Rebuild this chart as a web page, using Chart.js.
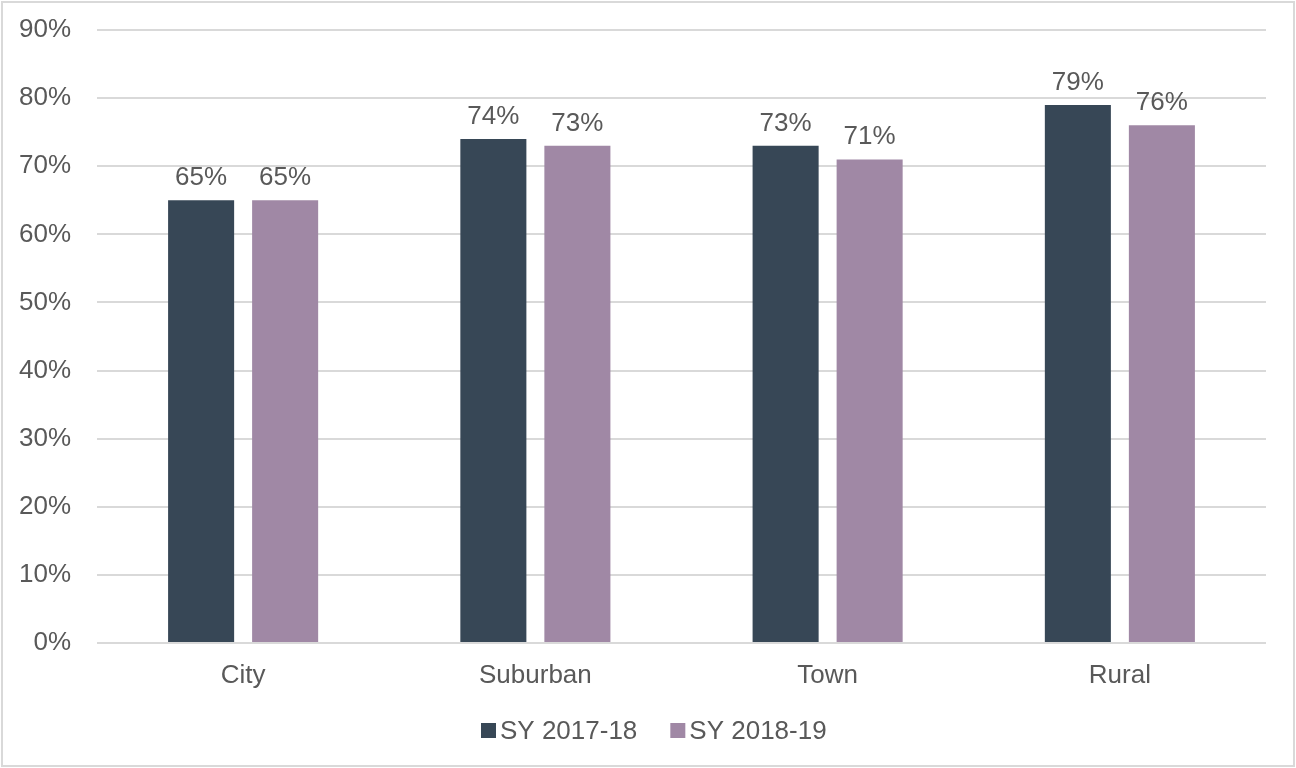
<!DOCTYPE html>
<html>
<head>
<meta charset="utf-8">
<script src="https://cdn.jsdelivr.net/npm/chart.js@4"></script>
<style>
  html, body { margin: 0; padding: 0; background: #fff; }
  #wrap { width: 1296px; height: 768px; position: relative; }
</style>
</head>
<body>
<div id="wrap"><canvas id="chart" width="1296" height="768"></canvas></div>
<script>
// Chart data
const categories = ['City', 'Suburban', 'Town', 'Rural'];
const sy2017 = [65, 74, 73, 79];
const sy2018 = [65, 73, 71, 76];
const seriesLabels = ['SY 2017-18', 'SY 2018-19'];

const textColor = '#595959';
const gridColor = '#d9d9d9';
const fontFamily = '"Liberation Sans", Arial, sans-serif';
const fontSize = 26;

// White background and light border round the whole picture
const frame = {
    id: 'frame',
    beforeDraw(chart) {
        const c = chart.ctx;
        c.save();
        c.fillStyle = '#fff';
        c.fillRect(0, 0, chart.width, chart.height);
        c.strokeStyle = '#d9d9d9';
        c.lineWidth = 2;
        c.strokeRect(2, 2, chart.width - 4, chart.height - 4);
        c.restore();
    }
};

// Value labels over each bar
const barLabels = {
    id: 'barLabels',
    afterDatasetsDraw(chart) {
        const c = chart.ctx;
        c.save();
        c.font = fontSize + 'px ' + fontFamily;
        c.fillStyle = textColor;
        c.textAlign = 'center';
        c.textBaseline = 'alphabetic';
        chart.data.datasets.forEach((ds, i) => {
            chart.getDatasetMeta(i).data.forEach((bar, j) => {
                c.fillText(ds.data[j] + '%', bar.x, bar.y - 15);
            });
        });
        c.restore();
    }
};

// Legend drawn by hand: small square, tight gap, then the label
const bottomLegend = {
    id: 'bottomLegend',
    afterDraw(chart) {
        const c = chart.ctx;
        const box = 15, gap = 4, spacing = 33, cy = 730.5;
        c.save();
        c.font = fontSize + 'px ' + fontFamily;
        c.textBaseline = 'middle';
        c.textAlign = 'left';
        const items = chart.data.datasets.map(ds => ({
            text: ds.label, color: ds.backgroundColor, w: c.measureText(ds.label).width
        }));
        const total = items.reduce((s, it) => s + box + gap + it.w, 0) + spacing * (items.length - 1);
        let x = Math.round(chart.width / 2 + 6 - total / 2);
        items.forEach(it => {
            c.fillStyle = it.color;
            c.fillRect(x, cy - box / 2, box, box);
            c.fillStyle = textColor;
            c.fillText(it.text, x + box + gap, cy + 1);
            x += box + gap + it.w + spacing;
        });
        c.restore();
    }
};

new Chart(document.getElementById('chart'), {
    type: 'bar',
    data: {
        labels: categories,
        datasets: [
            { label: seriesLabels[0], data: sy2017, backgroundColor: '#374756' },
            { label: seriesLabels[1], data: sy2018, backgroundColor: '#a088a5' },
        ],
    },
    options: {
        responsive: false,
        animation: false,
        layout: { padding: { top: 0, right: 30, bottom: 0, left: 0 } },
        categoryPercentage: 0.575,
        barPercentage: 0.786,
        scales: {
            x: {
                afterFit(scale) { scale.height = 125; },
                grid: { display: false, drawTicks: false },
                border: { display: false },
                ticks: { color: textColor, font: { size: fontSize, family: fontFamily }, padding: 17 },
            },
            y: {
                min: 0,
                max: 90,
                afterFit(scale) { scale.width = 97; scale.paddingTop = 30; },
                grid: { color: gridColor, lineWidth: 2, drawTicks: false },
                border: { display: false },
                ticks: {
                    stepSize: 10,
                    color: textColor,
                    font: { size: fontSize, family: fontFamily },
                    padding: 26,
                    callback: v => v + '%',
                },
            },
        },
        plugins: {
            legend: { display: false },
            tooltip: { enabled: false },
        },
    },
    plugins: [frame, barLabels, bottomLegend],
});
</script>
</body>
</html>
